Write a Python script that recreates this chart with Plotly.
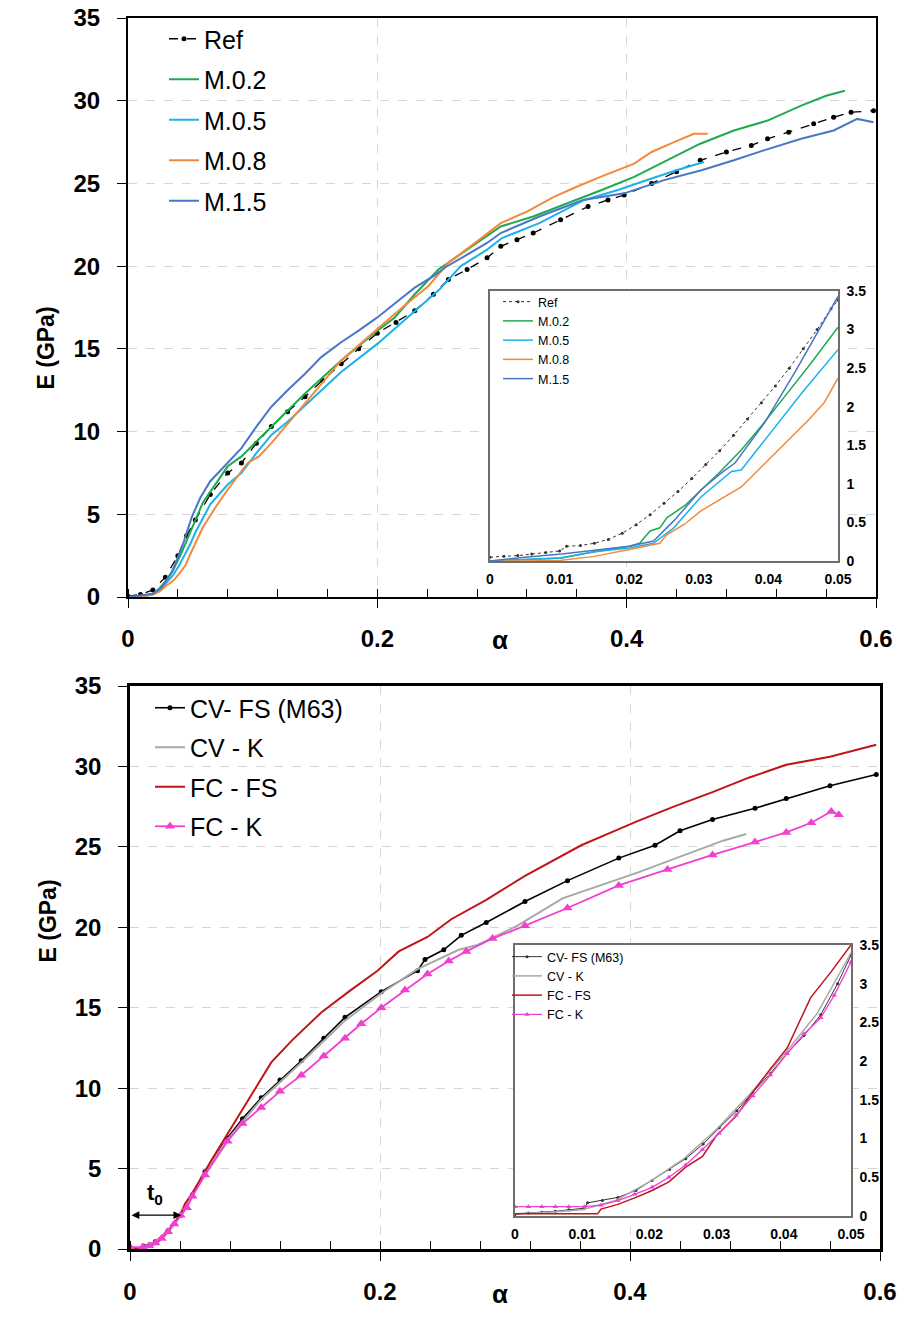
import plotly.graph_objects as go

# ---------------- Top chart: main curves (alpha, E in GPa) ----------------
ref_a = [0, 0.01, 0.02, 0.03, 0.04, 0.047, 0.054, 0.066, 0.08, 0.091, 0.103, 0.115, 0.128, 0.142,
         0.156, 0.171, 0.185, 0.2, 0.215, 0.23, 0.245, 0.257, 0.272, 0.288, 0.299, 0.312, 0.325,
         0.347, 0.369, 0.385, 0.398, 0.42, 0.44, 0.459, 0.48, 0.5, 0.513, 0.53, 0.55, 0.566, 0.58, 0.598]
ref_e = [0.05, 0.15, 0.43, 1.2, 2.5, 3.7, 4.65, 6.2, 7.5, 8.1, 9.3, 10.3, 11.2, 12.1,
         13.1, 14.1, 15.0, 15.95, 16.6, 17.3, 18.3, 19.2, 19.8, 20.5, 21.2, 21.6, 22.0,
         22.8, 23.6, 24.0, 24.3, 25.0, 25.7, 26.4, 26.9, 27.3, 27.7, 28.1, 28.6, 29.0, 29.3, 29.4]

m02_a = [0, 0.01, 0.02, 0.025, 0.03, 0.036, 0.0425, 0.05, 0.06, 0.08, 0.091, 0.103, 0.115, 0.142,
         0.171, 0.2, 0.214, 0.23, 0.249, 0.27, 0.299, 0.325, 0.353, 0.38, 0.406, 0.43, 0.459,
         0.486, 0.513, 0.54, 0.56, 0.575]
m02_e = [0, 0.04, 0.19, 0.5, 0.95, 1.6, 2.6, 3.9, 5.7, 7.9, 8.5, 9.4, 10.3, 12.3,
         14.3, 16.1, 16.9, 18.3, 19.8, 20.9, 22.4, 23.0, 23.8, 24.6, 25.4, 26.3, 27.4,
         28.2, 28.8, 29.7, 30.3, 30.6]

m05_a = [0, 0.01, 0.02, 0.0264, 0.03, 0.036, 0.041, 0.05, 0.054, 0.066, 0.08, 0.091, 0.103,
         0.115, 0.128, 0.155, 0.171, 0.2, 0.23, 0.25, 0.267, 0.288, 0.3, 0.33, 0.366, 0.393,
         0.42, 0.44, 0.462]
m05_e = [0, 0.03, 0.17, 0.43, 0.8, 1.3, 1.9, 3.2, 3.9, 5.6, 6.8, 7.5, 8.7,
         9.8, 10.6, 12.5, 13.6, 15.3, 17.3, 18.6, 20.0, 21.0, 21.7, 22.6, 24.0, 24.6,
         25.3, 25.8, 26.3]

m08_a = [0, 0.01, 0.02, 0.0254, 0.03, 0.036, 0.041, 0.046, 0.05, 0.06, 0.07, 0.08, 0.091, 0.096,
         0.105, 0.115, 0.142, 0.171, 0.2, 0.22, 0.241, 0.257, 0.28, 0.299, 0.32, 0.342, 0.36,
         0.379, 0.406, 0.42, 0.438, 0.454, 0.465]
m08_e = [0, 0.01, 0.15, 0.34, 0.65, 0.96, 1.4, 1.9, 2.6, 4.2, 5.4, 6.5, 7.6, 8.1,
         8.5, 9.3, 11.7, 14.3, 16.2, 17.5, 18.8, 20.2, 21.5, 22.6, 23.3, 24.2, 24.8,
         25.4, 26.2, 26.9, 27.5, 28.0, 28.0]

m15_a = [0, 0.01, 0.02, 0.0264, 0.0303, 0.0352, 0.04, 0.045, 0.051, 0.058, 0.066, 0.08, 0.091,
         0.103, 0.115, 0.128, 0.142, 0.155, 0.171, 0.185, 0.2, 0.215, 0.23, 0.245, 0.255, 0.27,
         0.288, 0.299, 0.33, 0.365, 0.398, 0.43, 0.46, 0.486, 0.51, 0.54, 0.566, 0.585, 0.598]
m15_e = [0, 0.09, 0.19, 0.52, 0.92, 1.5, 2.4, 3.4, 4.8, 6.0, 7.0, 8.1, 9.0,
         10.3, 11.5, 12.5, 13.5, 14.5, 15.4, 16.1, 16.9, 17.8, 18.7, 19.4, 19.95, 20.6,
         21.4, 22.0, 23.0, 24.0, 24.4, 25.2, 25.8, 26.4, 27.0, 27.7, 28.2, 28.9, 28.7]

# ---------------- Top chart: inset (0 - 0.05) ----------------
iref_a = [0, 0.002, 0.004, 0.006, 0.008, 0.01, 0.011, 0.013, 0.015, 0.017, 0.019, 0.021, 0.023,
          0.025, 0.027, 0.029, 0.031, 0.033, 0.035, 0.037, 0.039, 0.041, 0.043, 0.045, 0.047,
          0.049, 0.05]
iref_e = [0.05, 0.06, 0.07, 0.09, 0.11, 0.13, 0.19, 0.2, 0.23, 0.28, 0.36, 0.47, 0.6,
          0.75, 0.9, 1.07, 1.25, 1.43, 1.63, 1.84, 2.05, 2.27, 2.5, 2.75, 3.0,
          3.27, 3.38]
im02_a = [0, 0.005, 0.0103, 0.015, 0.02, 0.0215, 0.023, 0.0244, 0.0254, 0.028, 0.0303, 0.033,
          0.0361, 0.039, 0.0425, 0.046, 0.05]
im02_e = [0, 0.02, 0.04, 0.12, 0.19, 0.23, 0.39, 0.43, 0.56, 0.72, 0.92, 1.15,
          1.44, 1.75, 2.15, 2.55, 3.03]
im05_a = [0, 0.005, 0.01, 0.015, 0.02, 0.0235, 0.0264, 0.0303, 0.0332, 0.0347, 0.0361, 0.041,
          0.045, 0.05]
im05_e = [0, 0.02, 0.04, 0.12, 0.17, 0.23, 0.43, 0.83, 1.05, 1.16, 1.18, 1.75,
          2.2, 2.74]
im08_a = [0, 0.005, 0.0103, 0.015, 0.02, 0.0244, 0.0254, 0.028, 0.0303, 0.0361, 0.041, 0.0459,
          0.048, 0.05]
im08_e = [0, 0.0, 0.01, 0.06, 0.15, 0.23, 0.34, 0.48, 0.65, 0.96, 1.4, 1.84,
          2.05, 2.37]
im15_a = [0, 0.005, 0.0103, 0.015, 0.02, 0.0235, 0.0264, 0.0303, 0.0332, 0.0352, 0.0395, 0.0439,
          0.047, 0.05]
im15_e = [0, 0.05, 0.09, 0.14, 0.19, 0.26, 0.52, 0.92, 1.14, 1.27, 1.8, 2.46,
          2.95, 3.43]

# ---------------- Bottom chart: main curves ----------------
cvfs_a = [0, 0.0103, 0.0108, 0.0204, 0.0304, 0.0405, 0.05, 0.06, 0.078, 0.09, 0.105, 0.12,
          0.137, 0.155, 0.172, 0.201, 0.23, 0.236, 0.251, 0.265, 0.285, 0.316, 0.35, 0.391,
          0.42, 0.44, 0.466, 0.5, 0.525, 0.56, 0.597]
cvfs_e = [0.02, 0.07, 0.17, 0.46, 1.14, 2.1, 3.37, 4.8, 6.9, 8.1, 9.4, 10.5,
          11.7, 13.1, 14.4, 16.0, 17.3, 18.0, 18.6, 19.5, 20.3, 21.6, 22.9, 24.3,
          25.1, 26.0, 26.7, 27.4, 28.0, 28.8, 29.5]
cvk_a = [0, 0.01, 0.02, 0.03, 0.04, 0.05, 0.06, 0.078, 0.105, 0.137, 0.172, 0.201, 0.23,
         0.244, 0.263, 0.278, 0.31, 0.346, 0.38, 0.406, 0.43, 0.451, 0.475, 0.493]
cvk_e = [0.03, 0.07, 0.45, 1.12, 2.1, 3.4, 4.8, 6.8, 9.3, 11.6, 14.2, 15.9, 17.4,
         17.9, 18.6, 18.9, 20.1, 21.8, 22.7, 23.4, 24.1, 24.7, 25.4, 25.8]
fcfs_a = [0, 0.0123, 0.0128, 0.0204, 0.0254, 0.03, 0.0354, 0.0405, 0.044, 0.05, 0.065, 0.08,
          0.1, 0.113, 0.13, 0.153, 0.175, 0.198, 0.215, 0.238, 0.257, 0.285, 0.316, 0.34,
          0.361, 0.385, 0.406, 0.435, 0.466, 0.495, 0.525, 0.56, 0.597]
fcfs_e = [0.03, 0.03, 0.09, 0.33, 0.63, 1.03, 1.6, 2.17, 2.82, 3.5, 5.5, 7.4,
          10.0, 11.6, 13.0, 14.7, 16.0, 17.3, 18.5, 19.4, 20.5, 21.7, 23.2, 24.2,
          25.1, 25.9, 26.6, 27.5, 28.4, 29.3, 30.1, 30.6, 31.35]
fck_a = [0, 0.0103, 0.0153, 0.0204, 0.0254, 0.0304, 0.0354, 0.0405, 0.0455, 0.05, 0.06, 0.078,
         0.09, 0.105, 0.12, 0.137, 0.155, 0.172, 0.185, 0.201, 0.22, 0.238, 0.255, 0.269,
         0.29, 0.316, 0.35, 0.391, 0.43, 0.466, 0.5, 0.525, 0.545, 0.561, 0.567]
fck_e = [0.12, 0.12, 0.2, 0.37, 0.66, 1.07, 1.55, 2.1, 2.56, 3.28, 4.6, 6.7,
         7.8, 8.8, 9.8, 10.8, 12.0, 13.1, 14.0, 15.0, 16.1, 17.1, 17.9, 18.5,
         19.3, 20.1, 21.2, 22.6, 23.6, 24.5, 25.3, 25.9, 26.5, 27.2, 27.0]

# ---------------- Bottom chart: inset ----------------
icvfs_a = [0, 0.002, 0.004, 0.006, 0.008, 0.0103, 0.0108, 0.013, 0.0153, 0.018, 0.0204, 0.023,
           0.0254, 0.028, 0.0304, 0.033, 0.0354, 0.038, 0.0405, 0.043, 0.0455, 0.048, 0.05]
icvfs_e = [0.02, 0.04, 0.05, 0.06, 0.08, 0.1, 0.17, 0.2, 0.24, 0.33, 0.46, 0.6,
           0.74, 0.93, 1.14, 1.36, 1.6, 1.84, 2.1, 2.33, 2.6, 3.0, 3.37]
icvk_a = [0, 0.005, 0.01, 0.015, 0.02, 0.025, 0.03, 0.035, 0.04, 0.045, 0.05]
icvk_e = [0.03, 0.05, 0.08, 0.2, 0.44, 0.73, 1.12, 1.58, 2.08, 2.62, 3.4]
ifcfs_a = [0, 0.005, 0.01, 0.0123, 0.0128, 0.0153, 0.018, 0.0204, 0.0229, 0.0254, 0.0279, 0.0299,
           0.0329, 0.0354, 0.038, 0.0405, 0.044, 0.047, 0.05]
ifcfs_e = [0.03, 0.03, 0.03, 0.03, 0.09, 0.15, 0.24, 0.33, 0.44, 0.63, 0.77, 1.03,
           1.29, 1.6, 1.9, 2.17, 2.82, 3.15, 3.5]
ifck_a = [0, 0.002, 0.004, 0.006, 0.008, 0.0103, 0.0128, 0.0153, 0.0178, 0.0204, 0.0229, 0.0254,
          0.0279, 0.0304, 0.0329, 0.0354, 0.038, 0.0405, 0.043, 0.0455, 0.0475, 0.05]
ifck_e = [0.12, 0.12, 0.12, 0.12, 0.12, 0.12, 0.14, 0.2, 0.28, 0.37, 0.5, 0.66,
          0.86, 1.07, 1.3, 1.55, 1.82, 2.1, 2.35, 2.56, 2.85, 3.28]

main_x_ticks = [0, 0.2, 0.4, 0.6]
main_x_text = ["0", "0.2", "0.4", "0.6"]

# ---------------- styling ----------------
W, H = 901, 1329
FONT = "Liberation Sans, Arial, sans-serif"
C_GREEN = "#1EAA4E"
C_CYAN = "#1AB2EC"
C_ORANGE = "#F28A3C"
C_BLUE = "#4A76C6"
C_GRAY = "#A8A8A8"
C_RED = "#C0141B"
C_MAG = "#F23FD2"


def fx(p):
    return p / W


def fy(p):
    return 1 - p / H


fig = go.Figure()


def add(x, y, name, color, xa, ya, legend, width=2.0, dash="solid", mode="lines",
        msym="circle", msize=5, group=None):
    fig.add_trace(go.Scatter(
        x=x, y=y, name=name, mode=mode, xaxis=xa, yaxis=ya, legend=legend,
        legendgroup=group,
        line=dict(color=color, width=width, dash=dash),
        marker=dict(symbol=msym, size=msize, color=color, line=dict(width=0)),
    ))


# top main
add(ref_a, ref_e, "Ref", "black", "x", "y", "legend", width=1.3, dash="dash",
    mode="lines+markers", msize=5, group="g1")
add(m02_a, m02_e, "M.0.2", C_GREEN, "x", "y", "legend", group="g2")
add(m05_a, m05_e, "M.0.5", C_CYAN, "x", "y", "legend", group="g3")
add(m08_a, m08_e, "M.0.8", C_ORANGE, "x", "y", "legend", group="g4")
add(m15_a, m15_e, "M.1.5", C_BLUE, "x", "y", "legend", group="g5")

# bottom main
add(cvfs_a, cvfs_e, "CV- FS (M63)", "black", "x2", "y2", "legend2", width=1.6,
    mode="lines+markers", msize=5, group="h1")
add(cvk_a, cvk_e, "CV - K", C_GRAY, "x2", "y2", "legend2", group="h2")
add(fcfs_a, fcfs_e, "FC - FS", C_RED, "x2", "y2", "legend2", group="h3")
add(fck_a, fck_e, "FC - K", C_MAG, "x2", "y2", "legend2", width=1.8,
    mode="lines+markers", msym="triangle-up", msize=9, group="h4")

# top inset
add(iref_a, iref_e, "Ref", "#333333", "x3", "y3", "legend3", width=1, dash="dot",
    mode="lines+markers", msize=3)
add(im02_a, im02_e, "M.0.2", C_GREEN, "x3", "y3", "legend3", width=1.5)
add(im05_a, im05_e, "M.0.5", C_CYAN, "x3", "y3", "legend3", width=1.5)
add(im08_a, im08_e, "M.0.8", C_ORANGE, "x3", "y3", "legend3", width=1.5)
add(im15_a, im15_e, "M.1.5", C_BLUE, "x3", "y3", "legend3", width=1.5)

# bottom inset
add(icvfs_a, icvfs_e, "CV- FS (M63)", "#333333", "x4", "y4", "legend4", width=1,
    mode="lines+markers", msize=3)
add(icvk_a, icvk_e, "CV - K", C_GRAY, "x4", "y4", "legend4", width=1.5)
add(ifcfs_a, ifcfs_e, "FC - FS", C_RED, "x4", "y4", "legend4", width=1.5)
add(ifck_a, ifck_e, "FC - K", C_MAG, "x4", "y4", "legend4", width=1.3,
    mode="lines+markers", msym="triangle-up", msize=5)

TICKF = dict(family=FONT, size=24, color="black", weight=700)
INSF = dict(family=FONT, size=14, color="black", weight=700)


def main_x(domain, anchor, lw):
    return dict(
        domain=domain, anchor=anchor, range=[0, 0.6], tickvals=main_x_ticks, ticktext=main_x_text,
        tickfont=TICKF, showline=True, linecolor="black", linewidth=lw, mirror=True,
        ticks="outside", ticklen=9, tickwidth=1.3, tickcolor="black", ticklabelstandoff=10,
        showgrid=True, gridcolor="#d6d6d6", griddash="dash", gridwidth=1, zeroline=False,
        minor=dict(dtick=0.04, tick0=0, ticks="inside", ticklen=8, tickwidth=1,
                   tickcolor="black", showgrid=False),
    )


def main_y(domain, anchor, lw):
    return dict(
        domain=domain, anchor=anchor, range=[0, 35], dtick=5, tickfont=TICKF,
        showline=True, linecolor="black", linewidth=lw, mirror=True,
        ticks="outside", ticklen=9, tickwidth=1.3, tickcolor="black", ticklabelstandoff=12,
        showgrid=True, gridcolor="#d6d6d6", griddash="dash", gridwidth=1, zeroline=False,
    )


def ins_x(domain, anchor):
    return dict(
        domain=domain, anchor=anchor, range=[0, 0.05], dtick=0.01, tickfont=INSF,
        showline=True, linecolor="#6e6e6e", linewidth=1.5, mirror=True, ticks="",
        showgrid=False, zeroline=False, ticklabelstandoff=4,
    )


def ins_y(domain, anchor):
    return dict(
        domain=domain, anchor=anchor, range=[0, 3.5], dtick=0.5, tickfont=INSF, side="right",
        showline=True, linecolor="#6e6e6e", linewidth=1.5, mirror=True, ticks="",
        showgrid=False, zeroline=False, ticklabelstandoff=4,
    )


LEGF = dict(family=FONT, size=25, color="black")
LEGS = dict(family=FONT, size=12.5, color="black")

fig.update_layout(
    width=W, height=H,
    margin=dict(l=0, r=0, t=0, b=0, autoexpand=False),
    paper_bgcolor="white", plot_bgcolor="white",
    font=dict(family=FONT, color="black"),
    xaxis=main_x([fx(128), fx(876)], "y", 2),
    yaxis=main_y([fy(597), fy(18)], "x", 2),
    xaxis2=main_x([fx(130), fx(880)], "y2", 2.5),
    yaxis2=main_y([fy(1249), fy(686)], "x2", 2.5),
    xaxis3=ins_x([fx(490), fx(838)], "y3"),
    yaxis3=ins_y([fy(561), fy(291)], "x3"),
    xaxis4=ins_x([fx(515), fx(851)], "y4"),
    yaxis4=ins_y([fy(1216), fy(945)], "x4"),
    legend=dict(x=fx(164), y=fy(16), xanchor="left", yanchor="top", font=LEGF,
                bgcolor="rgba(0,0,0,0)", traceorder="grouped", tracegroupgap=5),
    legend2=dict(x=fx(150), y=fy(685), xanchor="left", yanchor="top", font=LEGF,
                 bgcolor="rgba(0,0,0,0)", traceorder="grouped", tracegroupgap=4),
    legend3=dict(x=fx(498), y=fy(287), xanchor="left", yanchor="top", font=LEGS,
                 bgcolor="rgba(0,0,0,0)", traceorder="normal"),
    legend4=dict(x=fx(507), y=fy(942), xanchor="left", yanchor="top", font=LEGS,
                 bgcolor="rgba(0,0,0,0)", traceorder="normal"),
    shapes=[
        dict(type="rect", xref="x3", yref="y3", x0=0, x1=0.05, y0=0, y1=3.5, layer="below",
             fillcolor="white", line=dict(width=0)),
        dict(type="rect", xref="x4", yref="y4", x0=0, x1=0.05, y0=0, y1=3.5, layer="below",
             fillcolor="white", line=dict(width=0)),
    ],
    annotations=[
        dict(text="α", xref="paper", yref="paper", x=fx(500), y=fy(640), showarrow=False,
             font=dict(family=FONT, size=26, color="black", weight=700)),
        dict(text="α", xref="paper", yref="paper", x=fx(500), y=fy(1311), showarrow=False,
             font=dict(family=FONT, size=26, color="black", weight=700)),
        dict(text="E (GPa)", xref="paper", yref="paper", x=fx(30), y=fy(305), showarrow=False,
             textangle=-90, font=dict(family=FONT, size=23, color="black", weight=700)),
        dict(text="E (GPa)", xref="paper", yref="paper", x=fx(32), y=fy(965), showarrow=False,
             textangle=-90, font=dict(family=FONT, size=23, color="black", weight=700)),
        dict(text="t<sub>0</sub>", xref="x2", yref="y2", x=0.02, y=3.4, showarrow=False,
             font=dict(family=FONT, size=22, color="black", weight=700)),
        dict(text="", xref="x2", yref="y2", x=0.041, y=2.1, ax=0.0, ay=2.1,
             axref="x2", ayref="y2", showarrow=True, arrowhead=2, arrowside="end+start",
             arrowsize=1.2, arrowwidth=1.3, arrowcolor="black", standoff=0, startstandoff=0,
             font=dict(size=1)),
    ],
)

fig.write_html(
    "out.html",
    config={"displayModeBar": False},
    post_script="document.body.style.margin='0px';document.body.style.overflow='hidden';",
)
